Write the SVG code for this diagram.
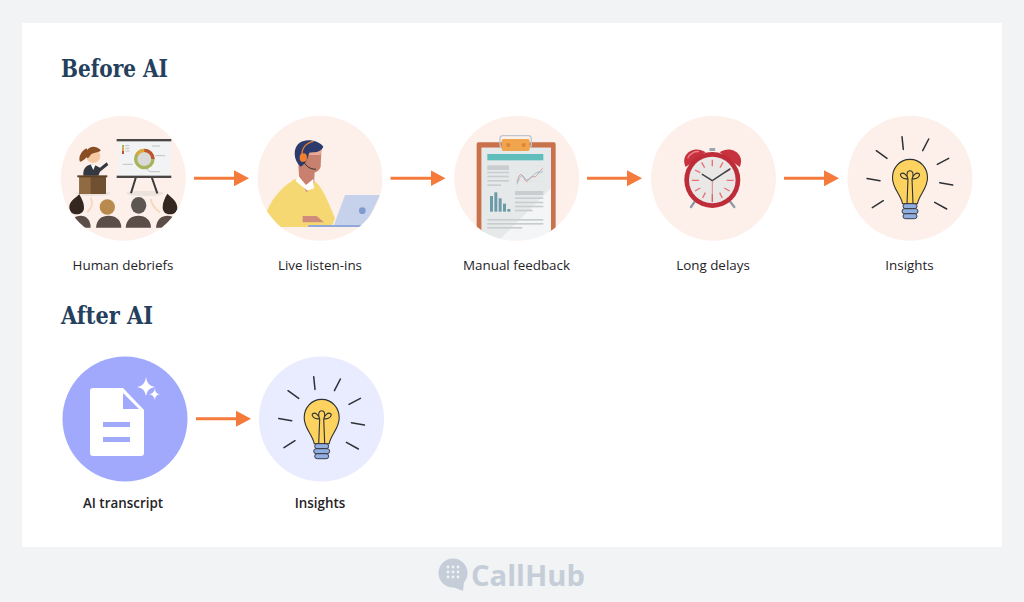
<svg xmlns="http://www.w3.org/2000/svg" width="1024" height="602" viewBox="0 0 1024 602">
<style>
.h{font-family:"DejaVu Serif",serif;font-weight:700;font-size:24px;fill:#24405c}
.l{font-family:"Open Sans","Noto Sans",sans-serif;font-size:13.4px;fill:#1f2328;text-anchor:middle}
.b{font-weight:600}
.conn{stroke:#f47b3c;stroke-width:3;fill:none;marker-end:url(#ah)}
.pk{fill:#fdf0ea}
.ray{stroke:#2d3136;stroke-width:1.5;stroke-linecap:round;fill:none}
.ink{stroke:#2d3136;stroke-width:1.1;fill:none}
.gl{fill:#c9cdcf}
.sq{fill:#5b4e48}
</style>
<defs>
<marker id="ah" markerUnits="userSpaceOnUse" markerWidth="15" markerHeight="17" refX="1" refY="8" orient="auto"><path d="M0 0L15 8L0 16Z" fill="#f47b3c"/></marker>
<g id="bulb">
<path class="ray" d="M-8-40L-6.700-27.300M18.700-37.700L12.700-26M38.700-18.300L27.300-12.300M42.700 8.300L29.700 6M36.700 32.300L24.700 25.700M-26.700 24L-37.700 31M-30 4L-43 1.700M-23-18.300L-33.700-26"/>
<path d="M0-17.300C11-17.300 17.500-8 17.500 1C17.500 12 9 18 7.500 27H-7.500C-9 18-17.500 12-17.500 1C-17.500-8-11-17.300 0-17.300Z" fill="#fdd25f" stroke="#2d3136" stroke-width="1.1"/>
<path class="ink" d="M-3 27L-2 2M3 27L2 2M-2 2C-7 3-11-1-9-3C-6-5-3-1-2 2M2 2C7 3 11-1 9-3C6-5 3-1 2 2M-2 2C-4-2-3-6 0-6C3-6 4-2 2 2"/>
<g fill="#92aee0" stroke="#2d3136" stroke-width=".9"><rect x="-7" y="27" width="14" height="5" rx="2.500"/><rect x="-8" y="32" width="16" height="5" rx="2.500"/><rect x="-7" y="37" width="14" height="5" rx="2.500"/></g>
</g>
<clipPath id="c3"><circle cx="516.700" cy="178.500" r="62.500"/></clipPath>
<clipPath id="c1"><circle cx="220" cy="220" r="187"/></clipPath>
<clipPath id="c2"><circle cx="810" cy="220" r="187"/></clipPath>
</defs>
<rect width="1024" height="602" fill="#f1f3f5"/>
<rect x="22" y="23" width="980" height="524" fill="#fff"/>
<text class="h" x="61" y="77" textLength="107" lengthAdjust="spacingAndGlyphs">Before AI</text>
<text class="h" x="61" y="324" textLength="92" lengthAdjust="spacingAndGlyphs">After AI</text>

<g id="connectors">
<line class="conn" x1="194" y1="178.300" x2="235" y2="178.300"/>
<line class="conn" x1="390.500" y1="178.300" x2="431.500" y2="178.300"/>
<line class="conn" x1="587" y1="178.300" x2="628" y2="178.300"/>
<line class="conn" x1="784" y1="178.300" x2="825" y2="178.300"/>
<line class="conn" x1="196" y1="418.700" x2="237" y2="418.700"/>
</g>

<g id="human-debriefs">
<circle class="pk" cx="123.300" cy="178.300" r="62.500"/>
<g transform="translate(50 105) scale(.3333)">
<g clip-path="url(#c1)">
<ellipse cx="285" cy="265" rx="57" ry="8" fill="#ebe3dc"/>
<ellipse cx="130" cy="265" rx="52" ry="8" fill="#ebe3dc"/>
<path d="M258 216L243 265M305 216L322 265" stroke="#3b3b3b" stroke-width="6"/>
<rect x="205" y="106" width="155" height="108" fill="#f2f3f5"/>
<rect x="200" y="102" width="164" height="7" fill="#4a4643"/>
<rect x="200" y="212" width="164" height="7" fill="#4a4643"/>
<circle cx="283" cy="162" r="26" fill="#d9d9d9" stroke="#a9b45a" stroke-width="10"/>
<path d="M261 148A26 26 0 0 1 283 136" fill="none" stroke="#e0a83c" stroke-width="10"/>
<path d="M283 136A26 26 0 0 1 309 162" fill="none" stroke="#c0532f" stroke-width="10"/>
<rect x="216" y="120" width="6" height="8" fill="#a9b45a"/><rect x="216" y="128" width="6" height="9" fill="#e0a83c"/><rect x="216" y="137" width="6" height="10" fill="#c0532f"/>
<path d="M226 122H238M226 130H238M226 138H238M306 123H330M316 152H345M218 178H248M285 188L300 200H330" stroke="#a9a9a9" stroke-width="2" fill="none"/>
<path d="M100 212C98 188 112 178 130 178L150 188L170 172L175 180L150 200L145 212Z" fill="#343840"/>
<path d="M122 178L130 195L137 178Z" fill="#fff"/>
<path d="M110 130C92 138 84 160 90 170C104 168 114 152 116 145Z" fill="#8a4e24"/>
<circle cx="130" cy="153" r="21" fill="#f6c9a5"/>
<path d="M108 152C106 128 130 116 152 135C152 144 126 140 120 152C115 162 108 160 108 152Z" fill="#8a4e24"/>
<rect x="88" y="215" width="80" height="52" fill="#6f5030"/>
<path d="M88 215H122V267H88Z" fill="#8f6a42"/>
<rect x="82" y="211" width="90" height="6" fill="#5c4227"/>
<path d="M122 278Q134 300 112 322M302 282Q308 308 330 322" stroke="#f6d9bf" stroke-width="6" fill="none"/>
<path class="sq" d="M60 368C62 340 78 332 92 332C110 332 122 345 122 368Z"/>
<path class="sq" d="M138 368C140 342 155 332 176 332C198 332 214 345 214 368Z"/>
<path class="sq" d="M227 368C229 342 245 332 265 332C287 332 303 345 303 368Z"/>
<path class="sq" d="M318 368C320 342 335 332 352 332C372 332 382 345 382 368Z"/>
<path d="M58 306C58 290 75 280 88 268C94 280 102 292 102 308C102 322 90 328 80 328C66 328 58 320 58 306Z" fill="#33271f"/>
<ellipse cx="172" cy="306" rx="23" ry="23" fill="#b98a4e"/>
<ellipse cx="266" cy="301" rx="23" ry="25" fill="#5e5651"/>
<path d="M338 306C338 292 345 278 352 266C368 280 383 292 382 310C381 322 372 328 360 328C346 328 338 320 338 306Z" fill="#33271f"/>
</g>
</g>
<text class="l" x="123" y="270">Human debriefs</text>
</g>

<g id="live-listen-ins">
<circle class="pk" cx="320" cy="178.300" r="62.500"/>
<g transform="translate(50 105) scale(.3333)">
<g clip-path="url(#c2)">
<path d="M650 320C670 270 710 232 745 218L790 225C815 240 835 290 855 340L845 366H690Z" fill="#f6d873"/>
<path d="M745 175L795 180L792 240L770 262L748 225Z" fill="#c9806f"/>
<path d="M745 212L768 240L790 222L792 250L772 257L737 228Z" fill="#fff"/>
<path d="M752 150L815 120L812 185C805 205 780 210 765 195Z" fill="#c8806f"/>
<path d="M765 125L815 120L812 150L775 150Z" fill="#e9a994"/>
<path d="M752 185C730 165 728 130 748 114C770 98 808 108 820 125C812 145 790 140 778 143C772 160 772 172 752 185Z" fill="#2c3b6b"/>
<path d="M756 155C754 130 768 114 790 109" stroke="#f07f2e" stroke-width="4" fill="none"/>
<ellipse cx="760" cy="158" rx="11" ry="13" fill="#f07f2e"/>
<path d="M762 170C768 185 780 192 798 193" stroke="#333" stroke-width="3" fill="none"/>
<path d="M885 270H990L945 365H850Z" fill="#c6d2ec"/>
<circle cx="937" cy="317" r="10" fill="#7f9bd0"/>
<path d="M775 360H945V366H775Z" fill="#8fa8d8"/>
<path d="M758 333H800L822 352H758Z" fill="#cf8b7b"/>
</g>
</g>
<text class="l" x="320" y="270">Live listen-ins</text>
</g>

<g id="manual-feedback">
<circle class="pk" cx="516.700" cy="178.300" r="62.500"/>
<g clip-path="url(#c3)">
<g transform="translate(445 105) scale(.3333)">
<rect x="95" y="112" width="237" height="268" rx="5" fill="#c9714a"/>
<path d="M110 128H318V405H110Z" fill="#f3f5f6"/>
<path d="M318 128V250L160 408H110V128Z" fill="#e6e9ea"/>
<rect x="127" y="147" width="168" height="19" fill="#5fbdbb"/>
<g class="gl"><rect x="127" y="181" width="65" height="14"/><rect x="127" y="200" width="65" height="5"/><rect x="127" y="212" width="65" height="5"/><rect x="127" y="225" width="65" height="5"/><rect x="127" y="238" width="41" height="5"/>
<rect x="210" y="258" width="85" height="12"/><rect x="210" y="277" width="85" height="5"/><rect x="210" y="290" width="85" height="5"/><rect x="210" y="302" width="85" height="5"/><rect x="210" y="314" width="53" height="5"/>
<rect x="127" y="342" width="168" height="5"/><rect x="127" y="354" width="168" height="5"/><rect x="127" y="366" width="105" height="5"/></g>
<path d="M210 182H295M210 205H295M210 228H295" stroke="#dfe2e3" stroke-width="1.500"/>
<path d="M216 232C225 195 232 210 240 225S255 210 265 215S280 200 294 190" fill="none" stroke="#d9736a" stroke-width="2"/>
<path d="M216 238C225 215 230 205 238 218S255 220 268 208S282 205 294 200" fill="none" stroke="#7fb0cf" stroke-width="2"/>
<g fill="#6b9ca8"><rect x="135" y="273" width="9" height="47"/><rect x="148" y="262" width="9" height="58"/><rect x="161" y="280" width="9" height="40"/><rect x="174" y="296" width="9" height="24"/><rect x="187" y="312" width="9" height="8"/></g>
<rect x="165" y="92" width="94" height="36" rx="9" fill="none" stroke="#bfc6cc" stroke-width="4"/>
<rect x="170" y="102" width="84" height="36" rx="6" fill="#f0a44c"/>
<circle cx="190" cy="120" r="6" fill="#e0823c"/><circle cx="236" cy="120" r="6" fill="#e0823c"/>
</g>
</g>
<text class="l" x="516.500" y="270">Manual feedback</text>
</g>

<g id="long-delays">
<circle class="pk" cx="713.500" cy="178.300" r="62.500"/>
<g transform="translate(445 105) scale(.3333)">
<path d="M760 275L738 306M844 275L868 306" stroke="#8e9aa3" stroke-width="7" stroke-linecap="round"/>
<rect x="793" y="129" width="18" height="9" rx="3" fill="#9aa5ad"/>
<path d="M722 186C704 150 745 118 782 142Z" fill="#c8323f"/>
<path d="M884 186C902 150 860 118 824 142Z" fill="#c8323f"/>
<path d="M728 160C735 145 750 138 762 140" stroke="#e8848a" stroke-width="4" fill="none"/>
<circle cx="802" cy="225" r="84" fill="#bd2c38"/>
<circle cx="802" cy="225" r="70" fill="#e9e8e7"/>
<path d="M802 164V184M802 268V292M740 226H762M845 226H866M770 172L779 188M834 172L825 188M750 195L766 203M854 195L838 203M750 258L766 249M854 258L838 249M773 279L781 263M832 279L824 263" stroke="#ea6f75" stroke-width="4"/>
<path d="M802 227L772 208M802 227L855 192" stroke="#3f4347" stroke-width="4.500" stroke-linecap="round"/>
<path d="M802 227V290" stroke="#d9535c" stroke-width="2"/>
</g>
<text class="l" x="713" y="270">Long delays</text>
</g>

<g id="insights-before">
<circle class="pk" cx="910" cy="178.300" r="62.500"/>
<use href="#bulb" x="910" y="176.700"/>
<text class="l" x="909.500" y="270">Insights</text>
</g>

<g id="ai-transcript">
<circle cx="125" cy="419" r="62.500" fill="#a1a9fd"/>
<path d="M93 388H123L144 410V453Q144 456 141 456H93Q90 456 90 453V391Q90 388 93 388Z" fill="#fff"/>
<path d="M123 393V409H139Z" fill="#a1a9fd"/>
<rect x="103" y="422" width="27" height="5" fill="#a1a9fd"/>
<rect x="103" y="437" width="27" height="5" fill="#a1a9fd"/>
<path d="M146 377Q147 386 155 387Q147 388 146 396Q145 388 137 387Q145 386 146 377Z" fill="#fff"/>
<path d="M155 388Q155 394 160 394Q155 395 155 400Q154 395 149 394Q154 394 155 388Z" fill="#fff"/>
<text class="l b" x="123" y="508">AI transcript</text>
</g>

<g id="insights-after">
<circle cx="321.500" cy="419" r="62.500" fill="#e9ebfe"/>
<use href="#bulb" x="321.700" y="416.700"/>
<text class="l b" x="320" y="508">Insights</text>
</g>

<g id="logo">
<path d="M453 587L463 591L464 582Z" fill="#c5ced8"/>
<circle cx="453" cy="573" r="14.500" fill="#c5ced8"/>
<g fill="#f1f3f5"><circle cx="448" cy="567" r="1.400"/><circle cx="453" cy="567" r="1.400"/><circle cx="458" cy="567" r="1.400"/><circle cx="448" cy="572" r="1.400"/><circle cx="453" cy="572" r="1.400"/><circle cx="458" cy="572" r="1.400"/><circle cx="448" cy="577" r="1.400"/><circle cx="453" cy="577" r="1.400"/><circle cx="458" cy="577" r="1.400"/></g>
<text x="471" y="586" font-family="'Open Sans',sans-serif" font-weight="700" font-size="29" fill="#c5ced8" textLength="114" lengthAdjust="spacingAndGlyphs">CallHub</text>
</g>
</svg>
